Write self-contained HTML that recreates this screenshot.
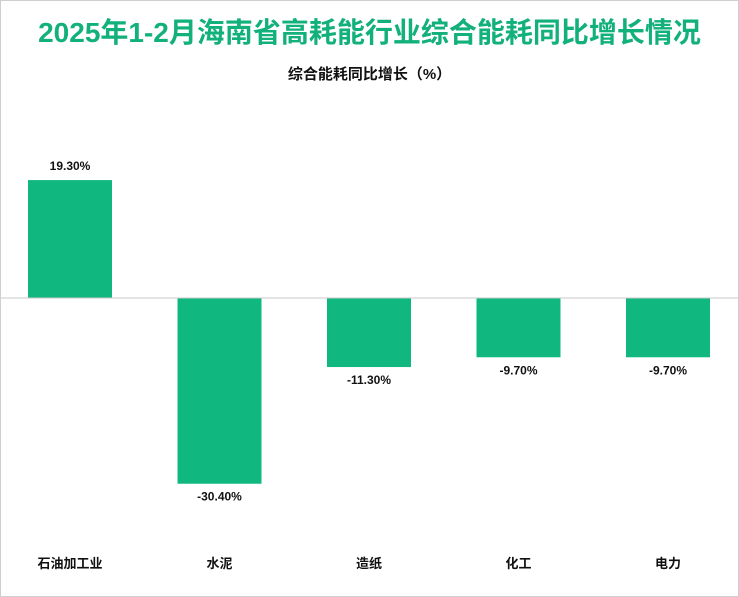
<!DOCTYPE html>
<html><head><meta charset="utf-8"><style>
body{margin:0;background:#fff;}
svg{display:block;font-family:"Liberation Sans","Noto Sans CJK SC",sans-serif;}
</style></head><body>
<svg id="c" width="739" height="597">
<rect x="0.5" y="0.5" width="738" height="596" fill="#fff" stroke="#cfcfcf"/>
<text x="369.5" y="42" text-anchor="middle" font-size="28" font-weight="bold" fill="#12b07a">2025年1-2月海南省高耗能行业综合能耗同比增长情况</text>
<text x="369.5" y="79" text-anchor="middle" font-size="15" font-weight="bold" fill="#111">综合能耗同比增长（%）</text>
<g id="bars"></g>
</svg>
<script>
const categories=["石油加工业","水泥","造纸","化工","电力"];
const values=[19.3,-30.4,-11.3,-9.7,-9.7];
const labels=["19.30%","-30.40%","-11.30%","-9.70%","-9.70%"];
const NS="http://www.w3.org/2000/svg";
const g=document.getElementById('bars');
const y0=298,scale=6.11;
function yPos(v){return y0-v*scale;}
function xCenter(i){return 70+i*149.5;}
const bw=84;
values.forEach((v,i)=>{
  const r=document.createElementNS(NS,'rect');
  
  
  const top=Math.min(yPos(v),y0),h=Math.abs(yPos(v)-y0);
  r.setAttribute('x',xCenter(i)-bw/2);r.setAttribute('y',top);
  r.setAttribute('width',bw);r.setAttribute('height',h);r.setAttribute('fill','#10b87f');
  g.appendChild(r);
  const t=document.createElementNS(NS,'text');
  
  
  t.setAttribute('x',xCenter(i));t.setAttribute('text-anchor','middle');
  t.setAttribute('font-size','12');t.setAttribute('font-weight','bold');t.setAttribute('fill','#111');
  t.setAttribute('y',v>=0?yPos(v)-10:yPos(v)+17);
  t.textContent=labels[i];g.appendChild(t);
  const c=document.createElementNS(NS,'text');
  
  
  c.setAttribute('x',xCenter(i));c.setAttribute('y',568);c.setAttribute('text-anchor','middle');
  c.setAttribute('font-size','13');c.setAttribute('font-weight','bold');c.setAttribute('fill','#111');
  c.textContent=categories[i];g.appendChild(c);
});
const l=document.createElementNS(NS,'line');


l.setAttribute('x1',1);l.setAttribute('x2',738);l.setAttribute('y1',y0);l.setAttribute('y2',y0);
l.setAttribute('stroke','#c8c8c8');l.setAttribute('stroke-width','1');
g.appendChild(l);
</script>
</body></html>
